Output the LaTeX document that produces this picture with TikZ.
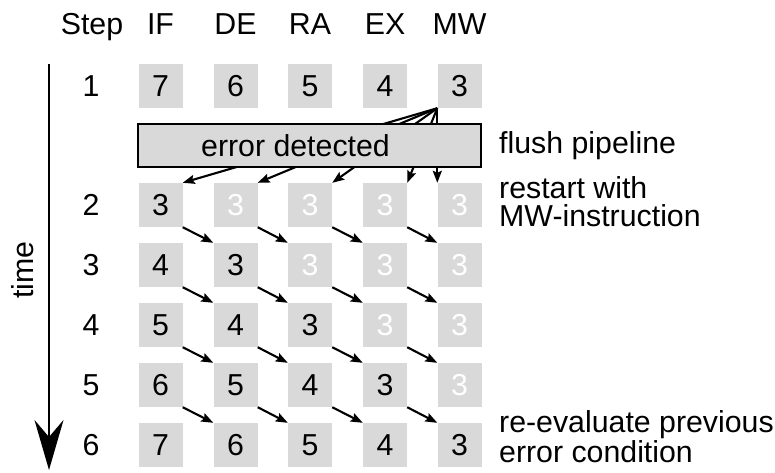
\documentclass[tikz,border=0pt]{standalone}
\usepackage{fontspec}
\setmainfont{Liberation Sans}
\usetikzlibrary{arrows.meta}
\definecolor{boxgray}{HTML}{D9D9D9}
\begin{document}
\begin{tikzpicture}[x=1pt,y=-1pt,
  font=\fontsize{30.3}{28}\selectfont,
  stage/.style={fill=boxgray, minimum size=44pt, inner sep=0pt, text=black},
  idle/.style={stage, text=white},
  flow/.style={line width=2.1pt, -{Stealth[length=12pt,width=9pt,inset=2pt]}},
  label/.style={anchor=base west, inner sep=0pt, align=left},
  errbox/.style={draw, line width=2pt, fill=boxgray, minimum width=343pt,
                 minimum height=43pt, inner sep=0pt},
  timeaxis/.style={line width=2.4pt, -{Stealth[length=50pt,width=29pt,inset=17pt]}}
]
\useasboundingbox (0,0) rectangle (775,472);

% column headers
\node[anchor=base] (hstep) at (92,34) {Step};
\foreach \c/\lab/\x in {1/IF/160.5, 2/DE/235.5, 3/RA/310, 4/EX/385, 5/MW/459.5}
  \node[anchor=base] (h\c) at (\x,34) {\lab};

% step numbers
\foreach \r/\y in {1/86, 2/205, 3/265, 4/325, 5/385, 6/445}
  \node (s\r) at (91,\y) {\r};

% pipeline stage boxes
\foreach \r/\y in {1/86, 2/205, 3/265, 4/325, 5/385, 6/445} {
  \foreach \c/\x in {1/160.5, 2/235.5, 3/310, 4/385, 5/459.5} {
    \ifnum\r=1
      \pgfmathtruncatemacro\v{8-\c}
      \node[stage] (b\r\c) at (\x,\y) {\v};
    \else
      \ifnum\c<\r
        \pgfmathtruncatemacro\v{\r-\c+2}
        \node[stage] (b\r\c) at (\x,\y) {\v};
      \else
        \node[idle] (b\r\c) at (\x,\y) {3};
      \fi
    \fi
  }
}

% flush: fan of arrows from the MW stage back to the restart row
\foreach \c in {1,2,3,4}
  \draw[flow] (b15.south west) -- (b2\c.north east);
\draw[flow] (b15.south west) -- (b25.north west);

% error box drawn over the fan, caption set left of centre
\node[errbox] (err) at (309.5,145.5) {};
\node (errtext) at ([xshift=-14pt]err.center) {error detected};

% instruction flow through the pipeline
\foreach \r in {2,...,5}
  \foreach \c in {1,...,4} {
    \pgfmathtruncatemacro\rn{\r+1}
    \pgfmathtruncatemacro\cn{\c+1}
    \draw[flow] (b\r\c.south east) -- (b\rn\cn.north west);
  }

% time axis
\coordinate (tstart) at (49,64);
\coordinate (tend) at (49,470);
\draw[timeaxis] (tstart) -- (tend);
\node[rotate=90] (time) at (23,270) {time};

% annotations (base anchor sits on the last line)
\node[label] (flush) at (499,153) {flush pipeline};
\node[label, font=\fontsize{30.3}{28}\selectfont] (restart) at (499,226)
  {restart with\\MW-instruction};
\node[label, font=\fontsize{30.3}{27}\selectfont] (reeval) at (499,462)
  {re-evaluate previous\\error condition};
\end{tikzpicture}
\end{document}
